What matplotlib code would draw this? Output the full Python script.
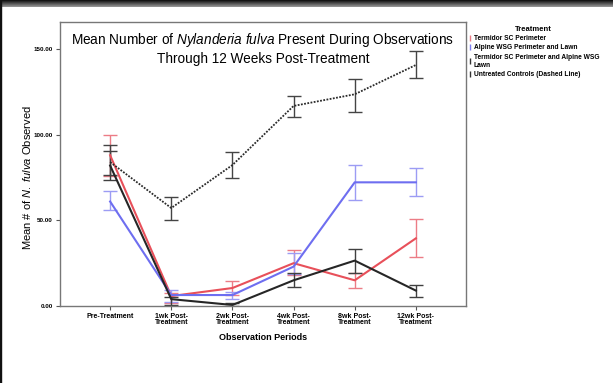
import numpy as np
import matplotlib.pyplot as plt
from matplotlib.lines import Line2D
from matplotlib.patches import Rectangle

plt.rcParams['font.family'] = ['Liberation Sans', 'DejaVu Sans']
plt.rcParams['mathtext.fontset'] = 'custom'
plt.rcParams['mathtext.rm'] = 'Liberation Sans'
plt.rcParams['mathtext.it'] = 'Liberation Sans:italic'

periods = ['Pre-Treatment', '1wk Post-\nTreatment', '2wk Post-\nTreatment',
           '4wk Post-\nTreatment', '8wk Post-\nTreatment', '12wk Post-\nTreatment']

# means and error bar limits
termidor = [88, 5.8, 10.5, 25, 15, 39.5]
termidor_hi = [100, 7.8, 14.6, 32.7, 19, 51]
termidor_lo = [76, 1.7, 6.4, 18, 10.5, 28.5]

alpine = [61, 6.4, 6.4, 23, 72.2, 72.2]
alpine_hi = [67, 9.3, 8.4, 31, 82.3, 80.7]
alpine_lo = [56, 2.3, 4, 18.7, 61.6, 64.2]

combo = [82, 4, 0.6, 15, 26.5, 9]
combo_hi = [90.5, 5.5, 1.5, 19.3, 33, 12.5]
combo_lo = [73.5, 0.6, 0.2, 11, 19, 5]

control = [84, 57.2, 82.3, 116.8, 123.6, 140.7]
control_hi = [94, 63.6, 89.9, 122.6, 132.5, 148.9]
control_lo = [76.5, 50.2, 74.7, 110.3, 113.4, 133.1]

legend_labels = ['Termidor SC Perimeter', 'Alpine WSG Perimeter and Lawn',
                 'Termidor SC Perimeter and Alpine WSG\nLawn',
                 'Untreated Controls (Dashed Line)']

fig = plt.figure(figsize=(6.13, 3.83), dpi=100)
ax = fig.add_axes([60 / 613, 1 - 306 / 383, 406 / 613, 284 / 383])

x = np.arange(len(periods))
series = [
    (termidor, termidor_lo, termidor_hi, '#e8505a', '#ec7c86', '-'),
    (alpine, alpine_lo, alpine_hi, '#6e6ef0', '#9c9cf4', '-'),
    (combo, combo_lo, combo_hi, '#262626', '#404040', '-'),
    (control, control_lo, control_hi, '#2a2a2a', '#444444', (0, (1, 0.8))),
]
for m, lo, hi, c, ec, ls in series:
    m = np.array(m)
    yerr = [m - np.array(lo), np.array(hi) - m]
    ax.errorbar(x, m, yerr=yerr, color=c, ecolor=ec, ls=ls,
                lw=1.3 if ls != '-' else 1.5,
                elinewidth=1.0, capsize=4.7, capthick=1.0)

ax.set_xlim(-0.82, 5.82)
ax.set_ylim(0, 165.8)
ax.set_xticks(x)
ax.set_xticklabels(periods, fontsize=5, fontweight='bold', linespacing=0.85)
ax.set_yticks([0, 50, 100, 150])
ax.set_yticklabels(['0.00', '50.00', '100.00', '150.00'], fontsize=4.5, fontweight='bold')
ax.tick_params(length=3, width=0.8, color='#555555', pad=2)
for s in ax.spines.values():
    s.set_color('#777777')
    s.set_linewidth(1.0)

ax.text(0.5, 0.97, 'Mean Number of $\\it{Nylanderia\\ fulva}$ Present During Observations\n'
        'Through 12 Weeks Post-Treatment', transform=ax.transAxes,
        ha='center', va='top', fontsize=9.8, linespacing=1.3)

ax.set_xlabel('Observation Periods', fontsize=6.5, fontweight='bold', labelpad=5)
fig.text(27 / 613, 1 - 178 / 383, 'Mean # of $\\it{N.\\ fulva}$ Observed', rotation=90,
         ha='center', va='center', fontsize=8)

handles = [Line2D([], [], ls='none', marker='$\\mathrm{I}$', markersize=4, color=c)
           for c in ['#ec7c86', '#7c7cf2', '#333333', '#333333']]
leg = fig.legend(handles, legend_labels, loc='upper left',
                 bbox_to_anchor=(463 / 613, 1 - 21 / 383), frameon=False,
                 title='Treatment', handlelength=0.6, handletextpad=0.3,
                 labelspacing=0.35, borderpad=0.2,
                 prop={'size': 4.8, 'weight': 'bold'})
leg.get_title().set_fontsize(5.5)
leg.get_title().set_fontweight('bold')
leg._legend_box.align = 'center'

# dark border from the screenshot
fig.patches.append(Rectangle((0, 0), 1.2 / 613, 1, transform=fig.transFigure,
                             color='#111111', zorder=5))
band = fig.add_axes([0, 1 - 7 / 383, 1, 7 / 383])
band.imshow(np.linspace(0.05, 0.6, 20).reshape(-1, 1), cmap='gray', aspect='auto',
            vmin=0, vmax=1)
band.axis('off')

fig.savefig('out.png', dpi=100)
